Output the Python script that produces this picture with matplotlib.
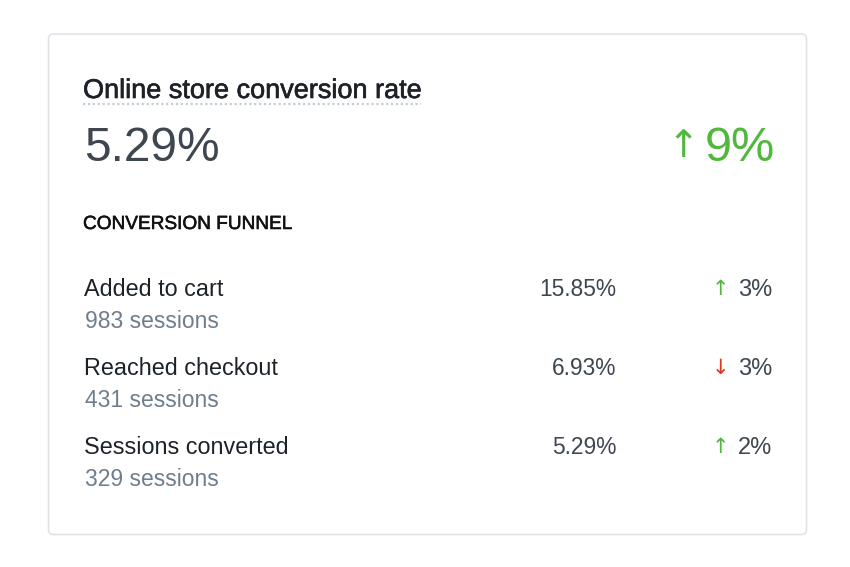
import matplotlib.pyplot as plt
from matplotlib.patches import FancyBboxPatch
import matplotlib.patheffects as pe

plt.rcParams['font.family'] = ['Liberation Sans', 'DejaVu Sans']

# Card data
title = "Online store conversion rate"
rate = "5.29%"
rate_change = 9
section = "CONVERSION FUNNEL"

steps = ["Added to cart", "Reached checkout", "Sessions converted"]
sessions = [983, 431, 329]
step_rates = [15.85, 6.93, 5.29]
step_changes = [3, -3, 2]

green = "#50b83c"
red = "#de3618"
ink = "#1c2228"
slate = "#3e4650"
muted = "#6f7e8d"

W, H = 850, 567
fig = plt.figure(figsize=(W / 100, H / 100), dpi=100)
ax = fig.add_axes([0, 0, 1, 1])
ax.set_xlim(0, W)
ax.set_ylim(H, 0)
ax.axis("off")

# a thin stroke makes the regular face look medium
medium = [pe.withStroke(linewidth=0.45, foreground=ink)]

# card outline
card = FancyBboxPatch((48.5, 34), 758, 500.5, boxstyle="round,pad=0,rounding_size=5",
                      fc="white", ec="#dfe3e8", lw=1.2)
ax.add_patch(card)

left, val_right, chg_right = 84, 616, 772

# header
ax.text(left - 1, 98, title, fontsize=19.5, color=ink, va="baseline", ha="left",
        path_effects=medium)
ax.plot([83, 421], [104, 104], color="#c4cdd5", lw=1.6, ls=(0, (1, 1.2)),
        solid_capstyle="butt", dash_capstyle="butt")
ax.text(left, 161, rate, fontsize=34.5, color=slate, va="baseline", ha="left")
arrow = "\u2191" if rate_change >= 0 else "\u2193"
ax.text(775, 161, f"{abs(rate_change)}%", fontsize=35, color=green,
        va="baseline", ha="right")
ax.text(699, 157, arrow, fontsize=27, color=green, va="baseline", ha="right",
        family=["DejaVu Sans"])

ax.text(left - 1, 229, section, fontsize=13.7, color="#111111", va="baseline", ha="left",
        path_effects=[pe.withStroke(linewidth=0.4, foreground="#111111")])

# funnel rows
row_gap = 79
for i, (name, n, r, c) in enumerate(zip(steps, sessions, step_rates, step_changes)):
    y = 296 + i * row_gap
    ax.text(left, y, name, fontsize=16.8, color=ink, va="baseline", ha="left")
    ax.text(left + 1, y + 32, f"{n} sessions", fontsize=16.5, color=muted,
            va="baseline", ha="left")
    ax.text(val_right, y, f"{r:.2f}%", fontsize=16.4, color=slate,
            va="baseline", ha="right")
    ax.text(chg_right, y, f"{abs(c)}%", fontsize=17, color=slate,
            va="baseline", ha="right")
    ax.text(729, y - 1, "\u2191" if c >= 0 else "\u2193", fontsize=15,
            color=green if c >= 0 else red, va="baseline", ha="right",
            family=["DejaVu Sans"])

fig.savefig("out.png", dpi=100, facecolor="white")
